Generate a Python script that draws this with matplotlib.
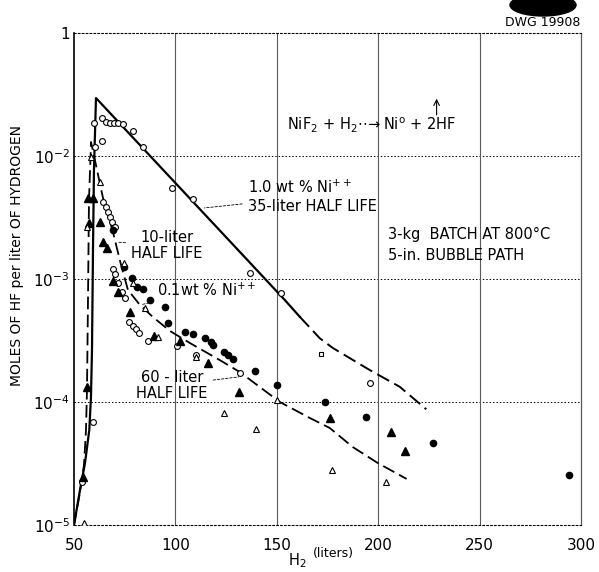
import numpy as np
import matplotlib.pyplot as plt
from matplotlib.patches import Ellipse
from matplotlib.ticker import NullLocator

#data (x = liters of H2, y = moles HF per liter H2)
#open circles
oc_x = [60.0, 63.6, 65.6, 67.7, 69.7, 71.8, 74.3, 79.2, 83.8, 63.6, 60.3, 98.1, 108.8,
        136.7, 152.3, 196.2, 59.2, 53.8, 69.4, 70.2, 71.8, 73.5, 75.1, 77.2, 78.9,
        80.5, 82.2, 86.6, 100.6, 110.4, 131.8, 64.4, 65.6, 66.9, 67.9, 68.9, 70.2]
oc_y = [0.01866, 0.02028, 0.01879, 0.01866, 0.01866, 0.01845, 0.01820, 0.01596, 0.01191,
        0.01324, 0.01191, 0.00552, 0.00445, 0.00111, 7.66e-4, 1.42e-4, 6.92e-5, 2.25e-5,
        1.20e-3, 1.10e-3, 9.23e-4, 7.89e-4, 6.97e-4, 4.50e-4, 4.15e-4, 3.90e-4, 3.62e-4,
        3.15e-4, 2.85e-4, 2.41e-4, 1.73e-4, 4.25e-3, 3.87e-3, 3.52e-3, 3.22e-3, 2.92e-3,
        2.66e-3]
#odd open square
sq_x = [172.0]
sq_y = [2.44e-4]

#filled circles
fc_x = [69.4, 74.6, 78.4, 81.2, 83.8, 87.4, 94.8, 96.5, 104.7, 108.8, 114.5, 117.4,
        118.6, 123.9, 126.0, 128.5, 139.2, 149.9, 173.6, 193.8, 227.0, 294.0]
fc_y = [2.50e-3, 1.26e-3, 1.01e-3, 8.57e-4, 8.24e-4, 6.75e-4, 5.96e-4, 4.42e-4, 3.73e-4,
        3.57e-4, 3.33e-4, 3.08e-4, 2.90e-4, 2.56e-4, 2.41e-4, 2.22e-4, 1.79e-4, 1.37e-4,
        1.00e-4, 7.60e-5, 4.61e-5, 2.55e-5]

#filled triangles
ft_x = [57.0, 59.5, 57.5, 62.8, 64.4, 66.1, 69.0, 71.8, 77.6, 89.6, 102.2, 116.2, 131.4,
        176.1, 206.2, 213.4, 56.6, 54.6]
ft_y = [4.53e-3, 4.53e-3, 2.84e-3, 2.92e-3, 2.01e-3, 1.78e-3, 9.68e-4, 7.89e-4, 5.42e-4,
        3.44e-4, 3.13e-4, 2.07e-4, 1.21e-4, 7.36e-5, 5.74e-5, 4.00e-5, 1.32e-4, 2.47e-5]

#open triangles
ot_x = [58.2, 62.8, 56.3, 74.6, 78.9, 85.0, 91.5, 110.1, 150.1, 123.9, 139.7, 177.4,
        204.0, 54.9]
ot_y = [9.86e-3, 6.18e-3, 2.63e-3, 1.35e-3, 9.23e-4, 5.78e-4, 3.40e-4, 2.32e-4, 1.04e-4,
        8.09e-5, 6.00e-5, 2.80e-5, 2.25e-5, 1.04e-5]

#1.0 wt % curve (solid part, then dashed extension)
a_x = [50, 52.96, 55.42, 57.54, 58.37, 58.87, 59.36, 59.85, 60.84, 153.94, 161.33]
a_y = [1e-5, 1.93e-5, 3.19e-5, 5.92e-5, 1.10e-4, 2.65e-4, 1.72e-3, 7.69e-3, 2.96e-2,
       6.75e-4, 4.93e-4]
a2_x = [161.33, 171.18, 177.6, 195.8, 210.6, 223.7]
a2_y = [4.93e-4, 3.30e-4, 2.75e-4, 1.82e-4, 1.33e-4, 8.73e-5]

#0.1 wt % curve (dashed)
b_x = [50, 52.96, 54.93, 55.91, 56.40, 56.90, 57.39, 58.4, 64.3, 69.2, 73.2, 76.6, 82.5,
       88.9, 97.3, 107.1, 121.9, 131.8, 151.5, 166.3, 176.1, 187.4, 199.8, 214.0]
b_y = [1e-5, 1.85e-5, 3.08e-5, 5.92e-5, 1.25e-4, 6.75e-4, 4.39e-3, 1.30e-2, 4.56e-3,
       2.41e-3, 1.30e-3, 8.15e-4, 6.15e-4, 4.91e-4, 3.78e-4, 3.02e-4, 2.19e-4, 1.75e-4,
       1.0e-4, 7.41e-5, 6.15e-5, 4.31e-5, 3.19e-5, 2.37e-5]

x_ticks = [50, 100, 150, 200, 250, 300]
y_ticks = [1e-5, 1e-4, 1e-3, 1e-2, 1e-1]
y_labels = ['$10^{-5}$', '$10^{-4}$', '$10^{-3}$', '$10^{-2}$', '1']

W, H = 599, 572
fig = plt.figure(figsize=(W/100, H/100), dpi=100)
ax = fig.add_axes([74/W, 1-525/H, (581-74)/W, (525-33)/H])
ax.set_yscale('log')
ax.set_xlim(50, 300)
ax.set_ylim(1e-5, 1e-1)

#grid
dot = (0, (1.5, 2))
for y in y_ticks[1:4]:
    ax.axhline(y, color='k', lw=0.7, ls=dot, zorder=1)
for x in x_ticks[1:5]:
    ax.axvline(x, color='0.35', lw=0.8, zorder=1)
ax.spines['top'].set_linestyle(dot)
ax.spines['bottom'].set_linestyle(dot)
ax.spines['top'].set_linewidth(0.8)
ax.spines['bottom'].set_linewidth(0.8)
ax.spines['left'].set_linewidth(1.2)
ax.spines['right'].set_linewidth(0.9)
ax.spines['right'].set_color('0.35')

#curves
ax.plot(a_x, a_y, color='k', lw=1.6, zorder=2)
ax.plot(a2_x, a2_y, color='k', lw=1.4, dashes=(7, 3), zorder=2)
ax.plot(b_x, b_y, color='k', lw=1.3, dashes=(7, 3), zorder=2)

#points
ax.plot(oc_x, oc_y, 'o', ms=4.2, mfc='white', mec='k', mew=0.8, zorder=3)
ax.plot(sq_x, sq_y, 's', ms=3.2, mfc='white', mec='k', mew=0.8, zorder=3)
ax.plot(fc_x, fc_y, 'o', ms=4.5, color='k', zorder=3)
ax.plot(ft_x, ft_y, '^', ms=5.2, color='k', zorder=3)
ax.plot(ot_x, ot_y, '^', ms=4.8, mfc='white', mec='k', mew=0.8, zorder=3)

#ticks
ax.set_xticks(x_ticks)
ax.set_xticklabels([str(v) for v in x_ticks])
ax.set_yticks(y_ticks)
ax.set_yticklabels(y_labels)
ax.yaxis.set_minor_locator(NullLocator())
ax.tick_params(length=0, labelsize=11)
ax.tick_params(axis='x', pad=9)
ax.tick_params(axis='y', pad=3)

#annotations
lead = dict(arrowstyle='-', color='k', lw=0.6, ls=(0, (3, 2)))
ax.text(154.9, 0.0179, r'NiF$_2$ + H$_2$$\cdot\!\cdot\!\!\rightarrow$Ni$^\mathrm{o}$ + 2HF',
        fontsize=10.5, va='center', ha='left')
ax.annotate('', xy=(228.8, 0.0308), xytext=(228.8, 0.0205),
            arrowprops=dict(arrowstyle='->', color='k', lw=0.8))
ax.annotate('1.0 wt % Ni$^{++}$\n35-liter HALF LIFE', xy=(112.9, 3.76e-3),
            xytext=(135.7, 4.69e-3), fontsize=10.5, va='center', ha='left',
            linespacing=1.2, arrowprops=lead)
ax.annotate('10-liter\nHALF LIFE', xy=(70.2, 2.0e-3), xytext=(95.8, 1.87e-3),
            fontsize=10.5, va='center', ha='center', linespacing=1.1, arrowprops=lead)
ax.annotate('0.1wt % Ni$^{++}$', xy=(82.5, 6.15e-4), xytext=(90.9, 8.15e-4),
            fontsize=10.5, va='center', ha='left', arrowprops=lead)
ax.annotate('60 - liter\nHALF LIFE', xy=(132.6, 1.61e-4), xytext=(98.3, 1.37e-4),
            fontsize=10.5, va='center', ha='center', linespacing=1.1, arrowprops=lead)
ax.text(204.7, 1.89e-3, '3-kg  BATCH AT 800°C\n5-in. BUBBLE PATH', fontsize=10.5,
        va='center', ha='left', linespacing=1.45)

#axis labels
fig.text(17/W, 1-256/H, 'MOLES OF HF per liter OF HYDROGEN', rotation=90,
         fontsize=10, ha='center', va='center')
fig.text(297/W, 1-561/H, 'H$_2$', fontsize=10.5, ha='center', va='center')
fig.text(313/W, 1-553/H, '(liters)', fontsize=9, ha='left', va='center')

#drawing number and ink blot
fig.text(543/W, 1-22/H, 'DWG 19908', fontsize=9, ha='center', va='center')
fig.add_artist(Ellipse((543/W, 1-5/H), 66/W, 22/H, transform=fig.transFigure,
                       color='black'))

fig.savefig('out.png', dpi=100)
